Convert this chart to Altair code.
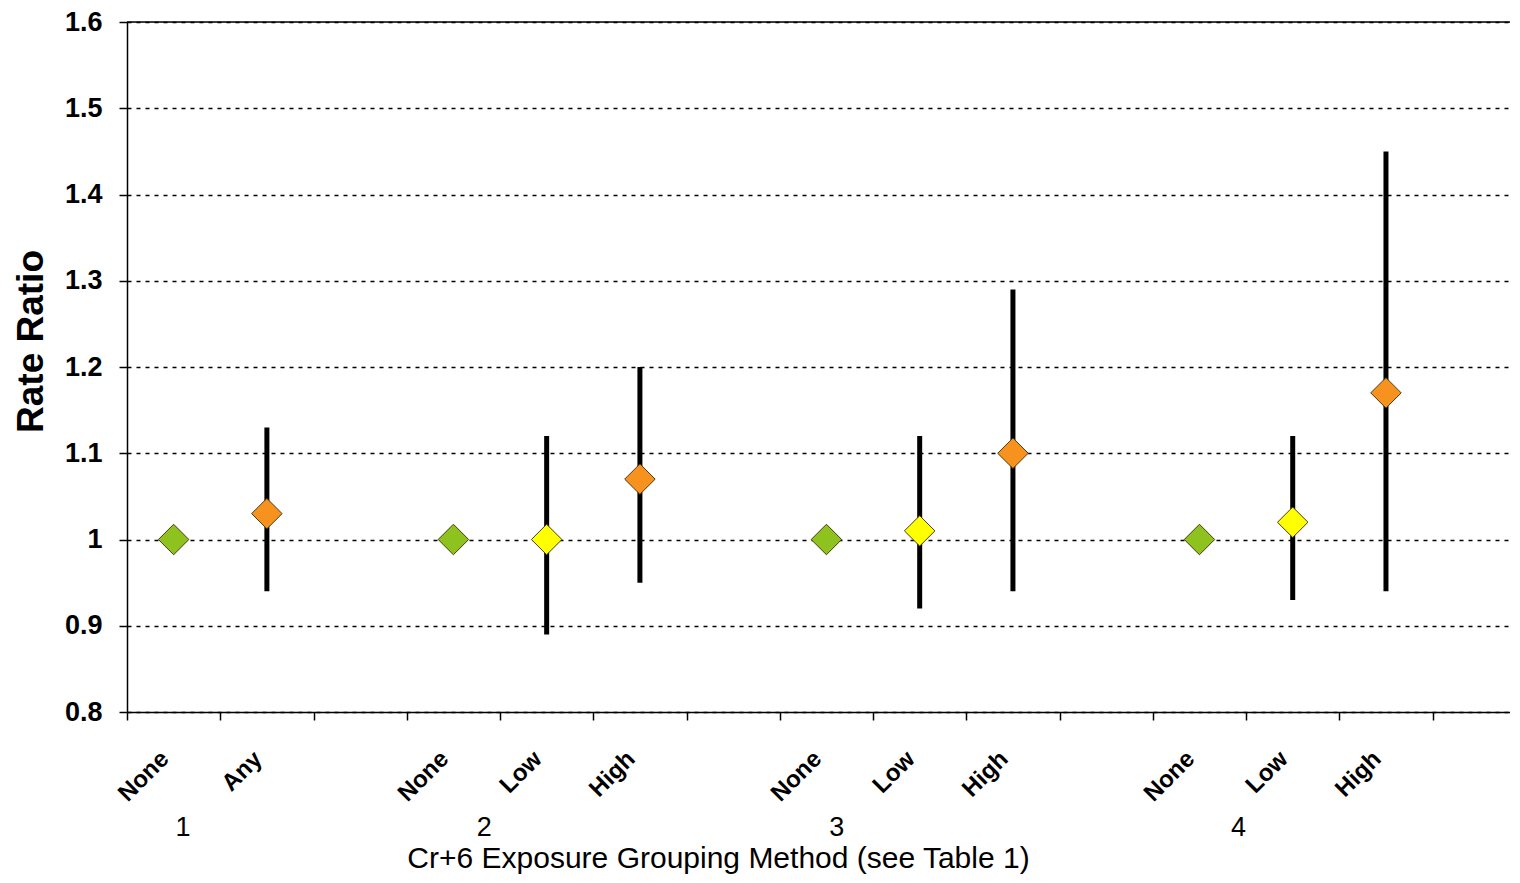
import altair as alt
import pandas as pd

# ---- data ----
slots = [0, 1, 3, 4, 5, 7, 8, 9, 11, 12, 13]
labels = ["None", "Any", "None", "Low", "High", "None", "Low", "High", "None", "Low", "High"]
levels = ["none", "any", "none", "low", "high", "none", "low", "high", "none", "low", "high"]
values = [1.00, 1.03, 1.00, 1.00, 1.07, 1.00, 1.01, 1.10, 1.00, 1.02, 1.17]
lower = [None, 0.94, None, 0.89, 0.95, None, 0.92, 0.94, None, 0.93, 0.94]
upper = [None, 1.13, None, 1.12, 1.20, None, 1.12, 1.29, None, 1.12, 1.45]

group_names = ["1", "2", "3", "4"]
group_pos = [0.6, 3.83, 7.61, 11.92]

y_ticks = [0.8, 0.9, 1.0, 1.1, 1.2, 1.3, 1.4, 1.5, 1.6]
x_ticks = list(range(15))

level_domain = ["none", "any", "low", "high"]
level_colors = ["#8DC21F", "#F7921E", "#FFFF00", "#F7921E"]

df = pd.DataFrame({
    "x": [s + 0.5 for s in slots],
    "label": labels,
    "level": levels,
    "value": values,
    "lo": lower,
    "hi": upper,
})
ci = df.dropna(subset=["lo", "hi"])
groups = pd.DataFrame({"x": group_pos, "g": group_names})

W, H = 1383, 690
FONT = "Liberation Sans"

xscale = alt.Scale(domain=[0, 14.83], nice=False, zero=False)
yscale = alt.Scale(domain=[0.8, 1.6], nice=False, zero=False)

base = alt.Chart(df)

x_axis = alt.Axis(
    values=x_ticks, labels=False, grid=False, ticks=True, tickSize=8,
    tickColor="black", tickWidth=1.5, domainColor="black", domainWidth=1.5,
    title="Cr+6 Exposure Grouping Method (see Table 1)",
    titleFont=FONT, titleFontSize=30, titleFontWeight="normal", titleColor="black",
    titleX=591, titleY=146, titleAnchor="middle", titleAlign="center", titleBaseline="middle",
)
y_axis = alt.Axis(
    values=y_ticks, grid=True, gridColor="black", gridDash=[4, 5], gridWidth=1.5,
    tickSize=8, tickColor="black", tickWidth=1.5, domainColor="black", domainWidth=1.5,
    labelExpr="datum.value == 1 ? '1' : format(datum.value, '.1f')",
    labelFont=FONT, labelFontSize=27, labelFontWeight="bold", labelColor="black", labelPadding=17,
    title="Rate Ratio", titleFont=FONT, titleFontSize=37, titleFontWeight="bold", titleColor="black",
    titleX=-96, titleY=319, titleAngle=270, titleAlign="center", titleBaseline="middle",
)

err = alt.Chart(ci).mark_rule(color="black", strokeWidth=5).encode(
    x=alt.X("x:Q", scale=xscale, axis=x_axis),
    y=alt.Y("lo:Q", scale=yscale, axis=y_axis),
    y2="hi:Q",
)

top_line = alt.Chart(pd.DataFrame({"y": [y_ticks[-1]]})).mark_rule(
    color="black", strokeWidth=1.5
).encode(y=alt.Y("y:Q", scale=yscale))

pts = base.mark_point(shape="diamond", filled=True, size=930, opacity=1,
                      stroke="#4a3a10", strokeWidth=1).encode(
    x=alt.X("x:Q", scale=xscale),
    y=alt.Y("value:Q", scale=yscale),
    fill=alt.Fill("level:N", scale=alt.Scale(domain=level_domain, range=level_colors), legend=None),
)

cat_text = base.mark_text(
    angle=315, align="right", baseline="middle", font=FONT, fontSize=24,
    fontWeight="bold", color="black", dx=-12,
).encode(
    x=alt.X("x:Q", scale=xscale),
    y=alt.value(H + 35),
    text="label:N",
)

grp_text = alt.Chart(groups).mark_text(
    align="center", baseline="middle", font=FONT, fontSize=27, color="black",
).encode(
    x=alt.X("x:Q", scale=xscale),
    y=alt.value(H + 116),
    text="g:N",
)

chart = alt.layer(top_line, err, pts, cat_text, grp_text).properties(
    width=W, height=H,
    autosize=alt.AutoSizeParams(type="none"),
    padding={"left": 119, "top": 14, "right": 0, "bottom": 163},
).configure_view(stroke=None).configure(background="white")

chart.save("out.html", embed_options={"renderer": "svg", "actions": False})
